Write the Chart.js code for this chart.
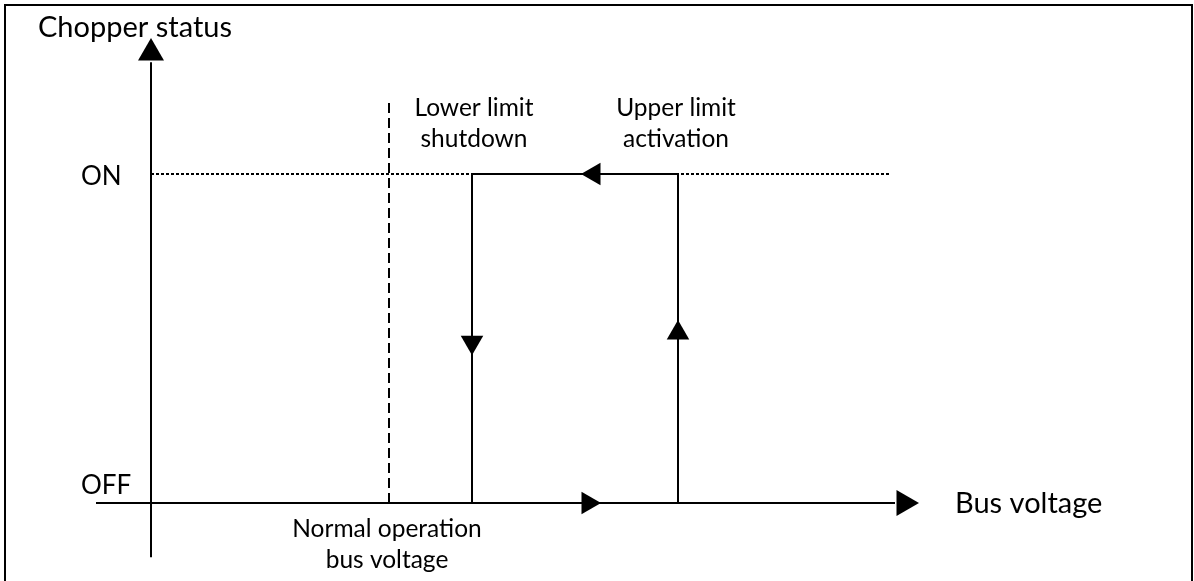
<!DOCTYPE html>
<html>
<head>
<meta charset="utf-8">
<title>Chopper status vs bus voltage</title>
<script src="https://cdn.jsdelivr.net/npm/chart.js@4/dist/chart.umd.min.js"></script>
<style>
  html, body { margin: 0; padding: 0; background: #fff; overflow: hidden; }
  #wrap { position: relative; width: 1194px; height: 581px; }
</style>
</head>
<body>
<div id="wrap"><canvas id="chart" width="1194" height="581"></canvas></div>
<script>
// DONNÉES (tension en unités relatives, état 0 = OFF, 1 = ON)
const statusLabels = ['OFF', 'ON'];
const statusValues = [0, 1];
const thresholdNames = [['Normal operation', 'bus voltage'], ['Lower limit', 'shutdown'], ['Upper limit', 'activation']];
const thresholdVoltages = [2.38, 3.21, 5.27];
const axisTitles = ['Bus voltage', 'Chopper status'];

// étendue des axes dessinés
const voltageAxisRange = [-0.55, 7.44];
const statusAxisRange = [-0.165, 1.34];
const onLineEnd = 7.39;
const normalLineTop = 1.22;

// pointes de flèches : [tension, état, rotation]
const arrowX = [0, 7.53, 3.21, 5.27, 4.43, 4.37];
const arrowY = [1.368, 0, 0.489, 0.517, 1, 0];
const arrowRot = [0, 90, 180, 0, 270, 90];
const arrowSize = [15, 15, 13, 13, 13, 13];

const BLACK = '#000000';

// LIGNES
function line(points, opts) {
    return Object.assign({
        data: points,
        showLine: true,
        borderColor: BLACK,
        borderWidth: 2,
        pointRadius: 0,
        fill: false,
        tension: 0
    }, opts || {});
}

const [vNormal, vLower, vUpper] = thresholdVoltages;
const [OFF, ON] = statusValues;

const datasets = [
    // axe horizontal
    line([{ x: voltageAxisRange[0], y: OFF }, { x: voltageAxisRange[1], y: OFF }]),
    // axe vertical
    line([{ x: 0, y: statusAxisRange[0] }, { x: 0, y: statusAxisRange[1] }]),
    // niveau ON en pointillés
    line([{ x: 0, y: ON }, { x: onLineEnd, y: ON }], { borderWidth: 2, borderDash: [3, 2] }),
    // tension normale en tirets
    line([{ x: vNormal, y: OFF }, { x: vNormal, y: normalLineTop }], { borderWidth: 2, borderDash: [10, 5] }),
    // cycle d'hystérésis
    line([{ x: vLower, y: OFF }, { x: vLower, y: ON }, { x: vUpper, y: ON }, { x: vUpper, y: OFF }]),
    // flèches
    {
        data: arrowX.map((x, i) => ({ x: x, y: arrowY[i] })),
        showLine: false,
        pointStyle: 'triangle',
        pointRotation: arrowRot,
        pointRadius: arrowSize,
        pointBackgroundColor: BLACK,
        pointBorderColor: BLACK,
        pointBorderWidth: 0
    }
];

// TEXTES + CADRE
const textPlugin = {
    id: 'diagramText',
    afterDraw(chart) {
        const c = chart.ctx;
        const xs = chart.scales.x, ys = chart.scales.y;
        const px = v => xs.getPixelForValue(v);
        const py = v => ys.getPixelForValue(v);
        c.save();
        c.fillStyle = BLACK;
        c.textBaseline = 'alphabetic';

        // cadre
        c.strokeStyle = BLACK;
        c.lineWidth = 2;
        c.strokeRect(5, 5, chart.width - 7, chart.height + 20);

        // titres des axes
        c.font = '29px Lato';
        c.textAlign = 'left';
        c.fillText(axisTitles[1], px(0) - 113, py(statusAxisRange[1]) - 25);
        c.fillText(axisTitles[0], px(arrowX[1]) + 51, py(OFF) + 10);

        // niveaux ON / OFF
        c.font = '26px Lato';
        c.fillText(statusLabels[1], px(0) - 70, py(ON) + 11);
        c.fillText(statusLabels[0], px(0) - 70, py(OFF) - 9);

        // seuils
        c.font = '24.5px Lato';
        c.textAlign = 'center';
        const tx = [vNormal - 0.02, vLower + 0.02, vUpper - 0.02];
        thresholdNames.forEach((lines, i) => {
            const y0 = i === 0 ? py(OFF) + 34 : py(ON) - 58;
            lines.forEach((t, j) => c.fillText(t, px(tx[i]), y0 + j * 31));
        });
        c.restore();
    }
};

function drawChart() {
    new Chart(document.getElementById('chart'), {
        type: 'scatter',
        data: { datasets: datasets },
        options: {
            responsive: false,
            animation: false,
            events: [],
            layout: { padding: 0, autoPadding: false },
            plugins: { legend: { display: false }, tooltip: { enabled: false } },
            scales: {
                x: { type: 'linear', display: false, min: -1.51, max: 10.43 },
                y: { type: 'linear', display: false, min: -0.237, max: 1.529 }
            }
        },
        plugins: [textPlugin]
    });
}

document.fonts.load('24px Lato').then(drawChart, drawChart);
</script>
</body>
</html>
